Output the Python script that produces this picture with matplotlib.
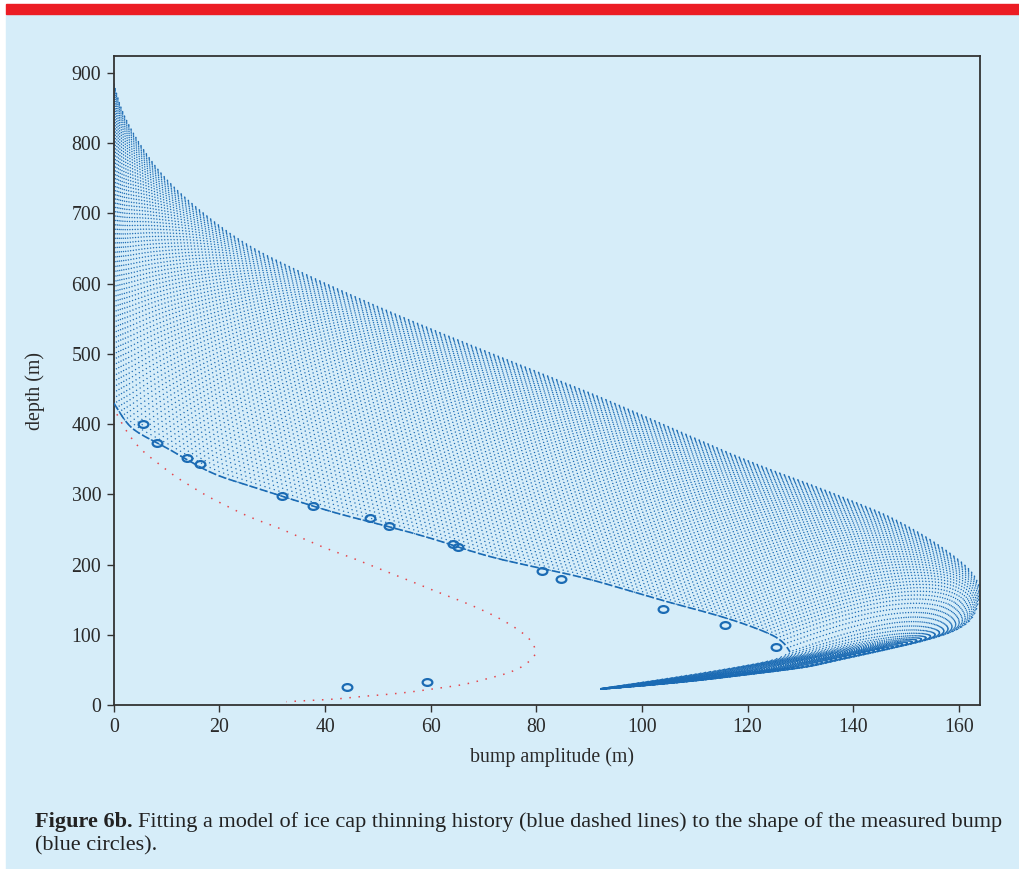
import numpy as np
import matplotlib
matplotlib.use('Agg')
import matplotlib.pyplot as plt
from matplotlib.patches import Rectangle
from matplotlib.path import Path

# ---------------------------------------------------------------------------
# Datos
# ---------------------------------------------------------------------------

# circulos azules: forma medida del "bump"
circle_x = [5.5, 8.1, 13.8, 16.3, 31.8, 37.8, 48.6, 52.2, 64.2, 65.1, 81.1, 84.7,
            103.9, 115.7, 125.3, 44.2, 59.4]
circle_y = [400, 373, 352, 343, 298, 283, 266, 255, 229, 225.5, 191, 179,
            137, 114, 83, 25.6, 32.5]

# curva roja punteada
red_x = [0.6, 1.9, 3.5, 5.5, 8.4, 11.5, 14.7, 18.0, 21.2, 24.4, 27.6, 30.8, 34.0,
         37.2, 40.5, 43.7, 48.5, 54.9, 61.2, 67.7, 74.1, 78.6, 79.9, 79.9, 77.6,
         74.4, 71.2, 66.4, 61.6, 56.8, 52.0, 47.2, 42.3, 37.5, 32.7]
red_y = [414, 396, 378, 361, 344, 326, 311, 296, 284, 272, 262, 253.6, 243,
         232.6, 222, 213.7, 199.4, 180.5, 161, 142.5, 119.7, 96.6, 79.8, 71, 55,
         44.6, 38.5, 29, 24.2, 19, 15.2, 12.4, 8.5, 6.7, 4.7]

# curva azul interior (mejor ajuste): rama superior hasta la nariz y rama inferior
inner_up_x = [0, 2.6, 5.1, 10.1, 13.9, 19.0, 25.3, 32.8, 41.6, 50, 60, 70, 79.3,
              88.8, 97.1, 104.7, 112.3, 118.5, 124.8, 127.0, 128.0]
inner_up_y = [430, 399, 385, 366, 349, 328, 313, 295, 274, 258, 238, 213, 197,
              182, 164, 147, 132, 118, 100, 88, 76]
inner_lo_x = [128.0, 127.0, 124.0, 115.0, 105.0, 97.0, 92.2]
inner_lo_y = [76, 70, 62, 50, 38, 29, 23.5]

# envolvente exterior de la familia de curvas
outer_up_x = [0, 1.5, 4.7, 9.5, 16.8, 25, 35.1, 49, 63.7, 78, 92, 106, 120.4,
              133, 139.3, 145.6, 150, 155, 159.5, 162.5, 163.8, 164.0]
outer_up_y = [885, 845, 800, 750, 700, 655, 617, 570, 524, 481, 439, 393, 346,
              311, 292, 273, 256, 234, 210, 190, 172, 158]
outer_lo_x = [164.0, 163.1, 160, 154.3, 146, 137.3, 133.5, 129.7, 120, 110, 100, 92.2]
outer_lo_y = [158, 126, 107, 92.6, 78, 64, 57, 52, 43, 34, 27, 22.4]

x_ticks = [0, 20, 40, 60, 80, 100, 120, 140, 160]
y_ticks = [0, 100, 200, 300, 400, 500, 600, 700, 800, 900]

n_curves = 80  # curvas del modelo dibujadas en el abanico

BG = '#d6edf9'
BLUE = '#1b6bb4'
RED = '#e5474d'


def chaikin(x, y, it=2):
    p = np.c_[x, y].astype(float)
    for _ in range(it):
        q = 0.75 * p[:-1] + 0.25 * p[1:]
        r = 0.25 * p[:-1] + 0.75 * p[1:]
        new = np.empty((2 * len(q), 2))
        new[0::2] = q
        new[1::2] = r
        p = np.vstack([p[0], new, p[-1]])
    return p


def resample(p, n):
    # reparametriza por longitud de arco (en pixeles aproximados)
    q = p * [5.29, 0.702]
    d = np.r_[0, np.cumsum(np.hypot(*np.diff(q, axis=0).T))]
    t = np.linspace(0, d[-1], n)
    return np.c_[np.interp(t, d, p[:, 0]), np.interp(t, d, p[:, 1])]


# ---------------------------------------------------------------------------
# Figura
# ---------------------------------------------------------------------------
plt.rcParams['font.family'] = ['Liberation Serif', 'DejaVu Serif']

fig = plt.figure(figsize=(10.19, 8.69), dpi=100, facecolor='white')
fig.patches.append(Rectangle((6 / 1019, 0), 1, 1 - 14 / 869, transform=fig.transFigure,
                             color=BG, zorder=-10))
fig.patches.append(Rectangle((6 / 1019, 1 - 14 / 869), 1, 10 / 869, transform=fig.transFigure,
                             color='#ec1c24', zorder=-10))

ax = fig.add_axes([0.1116, 0.1887, 0.8501, 0.7469])
ax.set_facecolor(BG)

iu = resample(chaikin(inner_up_x, inner_up_y), 220)
il = resample(chaikin(inner_lo_x, inner_lo_y), 70)
ou = resample(chaikin(outer_up_x, outer_up_y), 220)
ol = resample(chaikin(outer_lo_x, outer_lo_y), 70)

u = np.linspace(0, 1, n_curves)
for s in 1 - (1 - u) ** 1.4:
    up = (1 - s) * iu + s * ou
    lo = (1 - s) * il + s * ol
    c = np.vstack([up, lo[1:]])
    ax.plot(c[:, 0], c[:, 1], color=BLUE, lw=0.85, dashes=(1.1, 3.0), zorder=2)

# curva de mejor ajuste (trazo discontinuo)
ax.plot(iu[:, 0], iu[:, 1], color=BLUE, lw=1.2, dashes=(5, 1.5), zorder=3)

rc = chaikin(red_x, red_y)
ax.plot(rc[:, 0], rc[:, 1], color=RED, lw=1.1, dashes=(1, 5), zorder=3)

circ = Path.unit_circle()
ell = Path(circ.vertices * [1, 0.7], circ.codes)
ax.plot(circle_x, circle_y, ls='none', marker=ell, ms=7, mfc='none', mec=BLUE,
        mew=1.6, zorder=4)

ax.set_xlim(0, 164)
ax.set_ylim(0, 924)
ax.set_xticks(x_ticks)
ax.set_yticks(y_ticks)
ax.tick_params(direction='out', length=5, width=1, labelsize=14.3, colors='#333333',
               labelcolor='#2a2a2a', pad=4)
for sp in ax.spines.values():
    sp.set_linewidth(1.3)
    sp.set_color('#333333')

fig.text(552 / 1019, 1 - 757 / 869, 'bump amplitude (m)', ha='center', va='center',
         fontsize=14.3, color='#2a2a2a')
fig.text(35 / 1019, 1 - 391 / 869, 'depth (m)', ha='center', va='center',
         rotation=90, fontsize=14.3, color='#2a2a2a')

# pie de figura
fs = 16
t1 = fig.text(35 / 1019, 1 - 822 / 869, 'Figure 6b.', weight='bold', fontsize=fs,
              va='center', color='#222222')
fig.canvas.draw()
w = t1.get_window_extent().width / fig.bbox.width
fig.text(35 / 1019 + w + 5 / 1019, 1 - 822 / 869,
         'Fitting a model of ice cap thinning history (blue dashed lines) to the shape of the measured bump',
         fontsize=fs, va='center', color='#222222')
fig.text(35 / 1019, 1 - 846 / 869, '(blue circles).', fontsize=fs, va='center',
         color='#222222')

fig.savefig('out.png', dpi=100, facecolor=fig.get_facecolor())
